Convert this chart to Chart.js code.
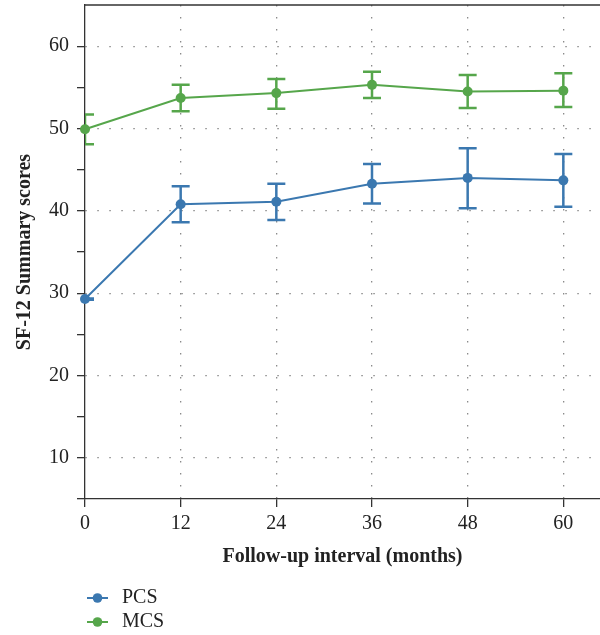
<!DOCTYPE html>
<html>
<head>
<meta charset="utf-8">
<script src="https://cdn.jsdelivr.net/npm/chart.js@4"></script>
<style>
  html, body { margin: 0; padding: 0; background: #fff; overflow: hidden; }
  #wrap { width: 600px; height: 635px; position: relative; }
</style>
</head>
<body>
<div id="wrap"><canvas id="chart"></canvas></div>
<script>
// Follow-up months on the x-axis
var months = [0, 12, 24, 36, 48, 60];

// PCS: mean and error bar ends
var pcsMean = [29.3, 40.8, 41.1, 43.3, 44.0, 43.7];
var pcsLow = [29.2, 38.6, 38.9, 40.9, 40.3, 40.5];
var pcsHigh = [29.35, 43.0, 43.3, 45.7, 47.6, 46.9];

// MCS: mean and error bar ends
var mcsMean = [49.9, 53.7, 54.3, 55.3, 54.5, 54.6];
var mcsLow = [48.1, 52.1, 52.4, 53.7, 52.5, 52.6];
var mcsHigh = [51.7, 55.3, 56.0, 56.9, 56.5, 56.7];

var seriesNames = ['PCS', 'MCS'];
var blue = 'rgb(59, 120, 176)';
var green = 'rgb(86, 166, 75)';
var serif = '"Liberation Serif", "DejaVu Serif", serif';

// Pair up x and y values for chart.js
function toPoints(ys) {
  return months.map(function (m, i) {
    return { x: m, y: ys[i] };
  });
}

// Draws vertical error bars with caps, clipped to the plot area.
var errorBars = {
  id: 'errorBars',
  afterDatasetsDraw: function (chart) {
    var ctx = chart.ctx;
    var xScale = chart.scales.x;
    var yScale = chart.scales.y;
    var area = chart.chartArea;
    ctx.save();
    ctx.beginPath();
    ctx.rect(area.left, area.top, area.right - area.left, area.bottom - area.top);
    ctx.clip();
    chart.data.datasets.forEach(function (ds) {
      ctx.strokeStyle = ds.borderColor;
      ctx.lineWidth = 2.5;
      ds.data.forEach(function (p, i) {
        var x = xScale.getPixelForValue(p.x);
        var yl = yScale.getPixelForValue(ds.low[i]);
        var yh = yScale.getPixelForValue(ds.high[i]);
        ctx.beginPath();
        ctx.moveTo(x, yl);
        ctx.lineTo(x, yh);
        ctx.moveTo(x - 9, yl);
        ctx.lineTo(x + 9, yl);
        ctx.moveTo(x - 9, yh);
        ctx.lineTo(x + 9, yh);
        ctx.stroke();
      });
    });
    ctx.restore();
  },
};

// Top frame line and a stacked legend below the x-axis title.
var frameAndLegend = {
  id: 'frameAndLegend',
  afterDraw: function (chart) {
    var ctx = chart.ctx;
    var area = chart.chartArea;
    ctx.save();
    ctx.strokeStyle = '#333';
    ctx.lineWidth = 1.3;
    ctx.beginPath();
    ctx.moveTo(area.left, area.top);
    ctx.lineTo(area.right, area.top);
    ctx.stroke();

    ctx.font = '20px ' + serif;
    ctx.textBaseline = 'middle';
    chart.data.datasets.forEach(function (ds, i) {
      var y = chart.height - 37 + i * 24;
      ctx.strokeStyle = ds.borderColor;
      ctx.lineWidth = 2;
      ctx.beginPath();
      ctx.moveTo(87, y);
      ctx.lineTo(108, y);
      ctx.stroke();
      ctx.fillStyle = ds.borderColor;
      ctx.beginPath();
      ctx.arc(97.5, y, 4.8, 0, Math.PI * 2);
      ctx.fill();
      ctx.fillStyle = '#222';
      ctx.fillText(ds.label, 122, y);
    });
    ctx.restore();
  },
};

new Chart(document.getElementById('chart'), {
  type: 'line',
  data: {
    datasets: [
      {
        label: seriesNames[0],
        data: toPoints(pcsMean),
        low: pcsLow,
        high: pcsHigh,
        borderColor: blue,
        backgroundColor: blue,
        borderWidth: 2,
        pointRadius: 5,
        pointBorderWidth: 0,
        clip: false,
      },
      {
        label: seriesNames[1],
        data: toPoints(mcsMean),
        low: mcsLow,
        high: mcsHigh,
        borderColor: green,
        backgroundColor: green,
        borderWidth: 2,
        pointRadius: 5,
        pointBorderWidth: 0,
        clip: false,
      },
    ],
  },
  options: {
    responsive: true,
    maintainAspectRatio: false,
    animation: false,
    layout: { autoPadding: false, padding: { top: 5, right: 0, left: 0, bottom: 0 } },
    plugins: {
      legend: { display: false },
      tooltip: { enabled: false },
    },
    scales: {
      x: {
        type: 'linear',
        min: 0,
        max: 64.6,
        afterFit: function (scale) {
          scale.height = 136;
          scale.paddingLeft = 0;
          scale.paddingRight = 0;
        },
        ticks: {
          stepSize: 12,
          includeBounds: false,
          padding: 5,
          color: '#222',
          font: { family: serif, size: 20 },
        },
        grid: {
          color: function (c) {
            return c.tick && c.tick.value > 0 ? '#8a8a8a' : 'transparent';
          },
          lineWidth: 1.3,
          tickColor: '#333',
          tickLength: 8,
          tickWidth: 1.3,
        },
        border: { color: '#333', width: 1.3, dash: [1.5, 10.5] },
        title: {
          display: true,
          text: 'Follow-up interval (months)',
          color: '#222',
          font: { family: serif, size: 20, weight: 'bold' },
          padding: { top: 0, bottom: 66 },
        },
      },
      y: {
        min: 5,
        max: 65,
        afterFit: function (scale) {
          scale.width = 85;
          scale.paddingTop = 0;
          scale.paddingBottom = 0;
        },
        ticks: {
          stepSize: 5,
          padding: 8,
          color: '#222',
          font: { family: serif, size: 20 },
          callback: function (v) {
            return v % 10 === 0 ? v : '';
          },
        },
        grid: {
          color: function (c) {
            return c.tick && c.tick.value % 10 === 0 ? '#8a8a8a' : 'transparent';
          },
          lineWidth: 1.3,
          tickColor: function (c) {
            return c.tick && c.tick.value === 65 ? 'transparent' : '#333';
          },
          tickLength: 8,
          tickWidth: 1.3,
        },
        border: { color: '#333', width: 1.3, dash: [1.5, 10.5] },
        title: {
          display: true,
          text: 'SF-12 Summary scores',
          color: '#222',
          font: { family: serif, size: 20, weight: 'bold' },
          padding: { top: 13, bottom: 0 },
        },
      },
    },
  },
  plugins: [errorBars, frameAndLegend],
});
</script>
</body>
</html>
